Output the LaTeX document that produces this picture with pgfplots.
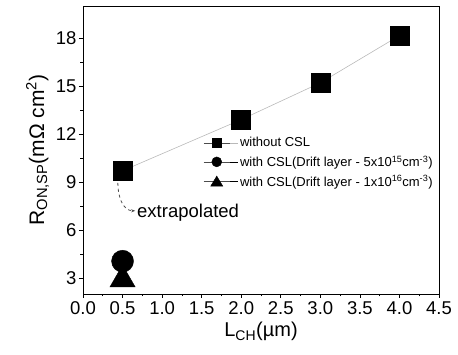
\documentclass[border=0pt]{standalone}
\usepackage{pgfplots}
\pgfplotsset{compat=1.18}
\usepackage{fontspec}
\setmainfont{Liberation Sans}
\usetikzlibrary{arrows.meta}
\begin{document}
\begin{tikzpicture}
\useasboundingbox (0,0) rectangle (458pt,355pt);
\begin{axis}[
  at={(83pt,61pt)}, anchor=south west,
  scale only axis, width=356pt, height=288pt,
  xmin=0, xmax=4.5, ymin=2, ymax=20,
  xtick={0,0.5,...,4.5}, ytick={3,6,...,18},
  minor x tick num=1, minor y tick num=1,
  xticklabel style={/pgf/number format/.cd,fixed,fixed zerofill,precision=1},
  /pgf/number format/assume math mode=true,
  tick align=outside, xtick pos=bottom, ytick pos=left,
  major tick length=4pt, minor tick length=2.5pt,
  tick style={black, line width=0.6pt},
  axis line style={line width=0.8pt},
  ticklabel style={font=\fontsize{18.5}{18.5}\selectfont},
  yticklabel style={xshift=1pt},
  xlabel={L\textsubscript{CH}(µm)},
  ylabel={R\textsubscript{ON,SP}(mΩ cm\textsuperscript{2})},
  xlabel style={font=\fontsize{20}{20}\selectfont, yshift=-1pt},
  ylabel style={font=\fontsize{21}{21}\selectfont, yshift=0pt},
  legend style={draw=none, fill=none, at={(0.335,0.555)}, anchor=north west,
    font=\fontsize{13}{14}\selectfont, row sep=3.5pt, inner sep=1pt},
  legend cell align=left,
]
\addplot[gray!55, line width=0.6pt, mark=square*, mark size=9.5pt,
  mark options={fill=black, draw=black, solid},
  legend image code/.code={
    \path (0pt,0pt) -- (34pt,0pt);
    \draw[line width=0.6pt, gray!60!black] (0pt,0pt) -- (26pt,0pt);
    \fill[black] (8.5pt,-4.5pt) rectangle (17.5pt,4.5pt);
  }] coordinates {(0.5,9.7) (2,12.9) (3,15.2) (4,18.15)};
\addlegendentry{without CSL}
\addplot[black, mark=*, mark size=11pt,
  legend image code/.code={
    \path (0pt,0pt) -- (34pt,0pt);
    \draw[line width=0.6pt, gray!60!black] (0pt,0pt) -- (26pt,0pt);
    \fill[black] (13pt,0pt) circle (5pt);
  }] coordinates {(0.5,4.05)};
\addlegendentry{with CSL(Drift layer - 5x10\textsuperscript{15}cm\textsuperscript{-3})}
\addplot[black, mark=triangle*, mark size=14.5pt,
  legend image code/.code={
    \path (0pt,0pt) -- (34pt,0pt);
    \draw[line width=0.6pt, gray!60!black] (0pt,0pt) -- (26pt,0pt);
    \fill[black] (13pt,5.5pt) -- (7pt,-4.5pt) -- (19pt,-4.5pt) -- cycle;
  }] coordinates {(0.5,2.9)};
\addlegendentry{with CSL(Drift layer - 1x10\textsuperscript{16}cm\textsuperscript{-3})}
\draw[gray!60!black, line width=0.8pt, dashed, -{Stealth[length=4pt]}]
  (axis cs:0.44,8.95) to[out=-90, in=180] (axis cs:0.66,7.2);
\node[anchor=west, font=\fontsize{18.5}{18.5}\selectfont, inner sep=1pt] at (axis cs:0.67,7.1) {extrapolated};
\end{axis}
\end{tikzpicture}
\end{document}
